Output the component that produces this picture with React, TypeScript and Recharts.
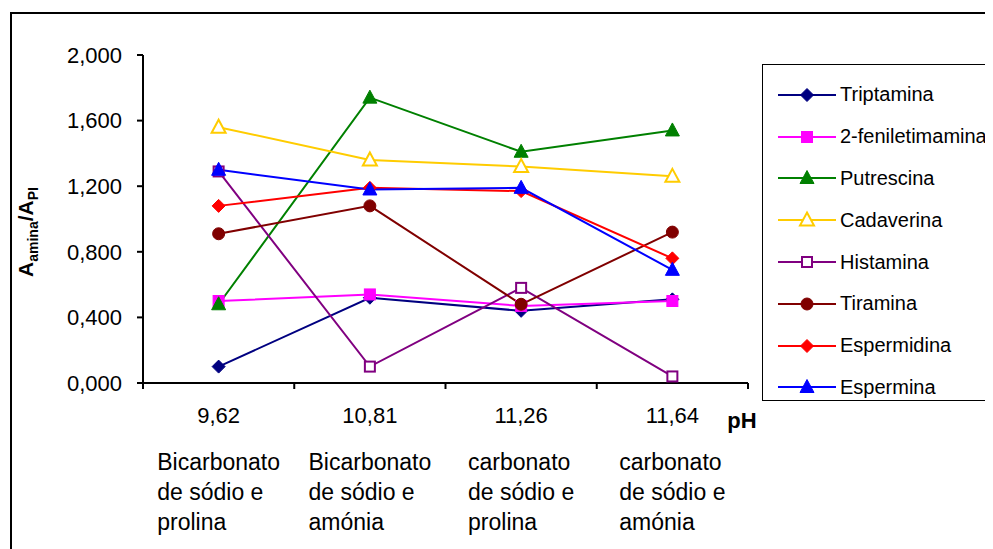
import React from 'react';
import { LineChart, Line, XAxis, YAxis, Legend, Label } from 'recharts';

// pH of each extraction medium (category axis)
const PH = ['9,62', '10,81', '11,26', '11,64'];
// buffer description printed under each pH value
const BUFFERS = [
  ['Bicarbonato', 'de sódio e', 'prolina'],
  ['Bicarbonato', 'de sódio e', 'amónia'],
  ['carbonato', 'de sódio e', 'prolina'],
  ['carbonato', 'de sódio e', 'amónia'],
];
const Y_TICKS = [0, 0.4, 0.8, 1.2, 1.6, 2.0];

// A_amina / A_PI ratio per amine
const triptamina = [0.10, 0.52, 0.44, 0.51];
const feniletimamina = [0.50, 0.54, 0.47, 0.50];
const putrescina = [0.48, 1.74, 1.41, 1.54];
const cadaverina = [1.56, 1.36, 1.32, 1.26];
const histamina = [1.29, 0.10, 0.58, 0.04];
const tiramina = [0.91, 1.08, 0.48, 0.92];
const espermidina = [1.08, 1.19, 1.17, 0.76];
const espermina = [1.30, 1.18, 1.19, 0.69];

type Shape = 'diamond' | 'square' | 'triangle' | 'circle';
interface Serie { key: string; name: string; color: string; shape: Shape; hollow: boolean; values: number[] }

const SERIES: Serie[] = [
  { key: 'triptamina', name: 'Triptamina', color: '#000080', shape: 'diamond', hollow: false, values: triptamina },
  { key: 'feniletimamina', name: '2-feniletimamina', color: '#FF00FF', shape: 'square', hollow: false, values: feniletimamina },
  { key: 'putrescina', name: 'Putrescina', color: '#008000', shape: 'triangle', hollow: false, values: putrescina },
  { key: 'cadaverina', name: 'Cadaverina', color: '#FFCC00', shape: 'triangle', hollow: true, values: cadaverina },
  { key: 'histamina', name: 'Histamina', color: '#800080', shape: 'square', hollow: true, values: histamina },
  { key: 'tiramina', name: 'Tiramina', color: '#800000', shape: 'circle', hollow: false, values: tiramina },
  { key: 'espermidina', name: 'Espermidina', color: '#FF0000', shape: 'diamond', hollow: false, values: espermidina },
  { key: 'espermina', name: 'Espermina', color: '#0000FF', shape: 'triangle', hollow: false, values: espermina },
];

const data = PH.map((ph, i) => {
  const row: Record<string, number | string> = { ph };
  SERIES.forEach((s) => { row[s.key] = s.values[i]; });
  return row;
});

const FONT = '"Liberation Sans", Arial, sans-serif';

function Marker({ cx, cy, shape, color, hollow }: { cx: number; cy: number; shape: Shape; color: string; hollow: boolean }) {
  const fill = hollow ? '#FFFFFF' : color;
  const sw = hollow ? 2 : 1;
  if (shape === 'diamond') {
    const r = 6.5;
    return <polygon points={`${cx},${cy - r} ${cx + r},${cy} ${cx},${cy + r} ${cx - r},${cy}`} fill={fill} stroke={color} strokeWidth={sw} />;
  }
  if (shape === 'square') {
    const h = hollow ? 5 : 5.5;
    return <rect x={cx - h} y={cy - h} width={2 * h} height={2 * h} fill={fill} stroke={color} strokeWidth={sw} />;
  }
  if (shape === 'triangle') {
    return <polygon points={`${cx},${cy - 7.5} ${cx + 7},${cy + 5.5} ${cx - 7},${cy + 5.5}`} fill={fill} stroke={color} strokeWidth={sw} strokeLinejoin="miter" />;
  }
  return <circle cx={cx} cy={cy} r={6} fill={fill} stroke={color} strokeWidth={sw} />;
}

const fmt = (v: number) => v.toFixed(3).replace('.', ',');

// Category label: pH value, buffer description below, and tick marks on the band edges
function CategoryTick(props: any) {
  const { x, y, payload, index, visibleTicksCount, width } = props;
  const half = typeof payload.offset === 'number' && payload.offset > 0
    ? payload.offset
    : width / (visibleTicksCount || PH.length) / 2;
  const lines = BUFFERS[index] || [];
  const isLast = index === (visibleTicksCount || PH.length) - 1;
  return (
    <g>
      <line x1={x - half} y1={y} x2={x - half} y2={y + 6} stroke="#000" strokeWidth={2} />
      {isLast && <line x1={x + half} y1={y} x2={x + half} y2={y + 6} stroke="#000" strokeWidth={2} />}
      <text x={x} y={y + 40} textAnchor="middle" fontFamily={FONT} fontSize={22} fill="#000">{payload.value}</text>
      <foreignObject x={x - 90} y={y + 64} width={180} height={100}>
        <div style={{ display: 'flex', justifyContent: 'center' }}>
          <div style={{ display: 'inline-block', textAlign: 'left', fontFamily: FONT, fontSize: 23, lineHeight: '30px', color: '#000', whiteSpace: 'nowrap' }}>
            {lines.map((l: string, i: number) => <div key={i}>{l}</div>)}
          </div>
        </div>
      </foreignObject>
    </g>
  );
}

function LegendBox(props: any) {
  const payload = (props.payload || []) as any[];
  const ordered = SERIES.map((s) => ({ s, p: payload.find((p) => p.value === s.name) })).filter((e) => e.p);
  return (
    <div style={{ width: 227, height: 337, border: '1.5px solid #000', background: '#fff', boxSizing: 'border-box', paddingTop: 9 }}>
      {ordered.map(({ s, p }) => (
        <div key={s.key} style={{ display: 'flex', alignItems: 'center', height: 41.8 }}>
          <svg width={76} height={24} style={{ flex: 'none' }}>
            <line x1={15} y1={12} x2={73} y2={12} stroke={p.color} strokeWidth={2} />
            <Marker cx={44} cy={12} shape={s.shape} color={s.color} hollow={s.hollow} />
          </svg>
          <span style={{ fontFamily: FONT, fontSize: 20, color: '#000', whiteSpace: 'nowrap', marginLeft: 1 }}>{s.name}</span>
        </div>
      ))}
    </div>
  );
}

export default function App() {
  return (
    <div style={{ position: 'relative', width: 985, height: 541, overflow: 'hidden', background: '#fff' }}>
      <div style={{ position: 'absolute', left: 2, top: 4, width: 1100, height: 700, border: '2px solid #000', boxSizing: 'border-box' }} />
      <div style={{ position: 'absolute', left: 0, top: 0 }}>
        <LineChart width={985} height={541} data={data} margin={{ top: 47, right: 245, left: 55, bottom: 0 }}>
          <XAxis
            dataKey="ph"
            scale="band"
            height={166}
            axisLine={{ stroke: '#000', strokeWidth: 2 }}
            tickLine={false}
            tickSize={0}
            tickMargin={0}
            interval={0}
            tick={<CategoryTick />}
          >
            <Label
              content={(p: any) => {
                const vb = p.viewBox || {};
                return (
                  <text x={vb.x + vb.width - 6} y={vb.y + 45} textAnchor="middle" fontFamily={FONT} fontSize={22} fontWeight="bold" fill="#000">pH</text>
                );
              }}
            />
          </XAxis>
          <YAxis
            width={80}
            domain={[0, 2]}
            ticks={Y_TICKS}
            tickFormatter={fmt}
            axisLine={{ stroke: '#000', strokeWidth: 2 }}
            tickLine={{ stroke: '#000', strokeWidth: 2 }}
            tickSize={6}
            tickMargin={15}
            tick={{ fontFamily: FONT, fontSize: 22, fill: '#000' }}
            interval={0}
          >
            <Label
              content={(p: any) => {
                const vb = p.viewBox || {};
                const cx = vb.x - 30;
                const cy = vb.y + vb.height / 2 + 13;
                return (
                  <text x={cx} y={cy} transform={`rotate(-90 ${cx} ${cy})`} textAnchor="middle" fontFamily={FONT} fontWeight="bold" fill="#000" fontSize={21}>
                    <tspan>A</tspan>
                    <tspan fontSize={14} dy={5}>amina</tspan>
                    <tspan dy={-5}>/A</tspan>
                    <tspan fontSize={14} dy={5}>PI</tspan>
                  </text>
                );
              }}
            />
          </YAxis>
          <Legend
            layout="horizontal"
            verticalAlign="middle"
            align="center"
            content={<LegendBox />}
            wrapperStyle={{ position: 'absolute', left: 754, top: 56, width: 227, height: 337 }}
          />
          {SERIES.map((s) => (
            <Line
              key={s.key}
              type="linear"
              dataKey={s.key}
              name={s.name}
              stroke={s.color}
              strokeWidth={2}
              isAnimationActive={false}
              activeDot={false}
              dot={(p: any) => <Marker key={`${s.key}-${p.index}`} cx={p.cx} cy={p.cy} shape={s.shape} color={s.color} hollow={s.hollow} />}
            />
          ))}
        </LineChart>
      </div>
    </div>
  );
}
